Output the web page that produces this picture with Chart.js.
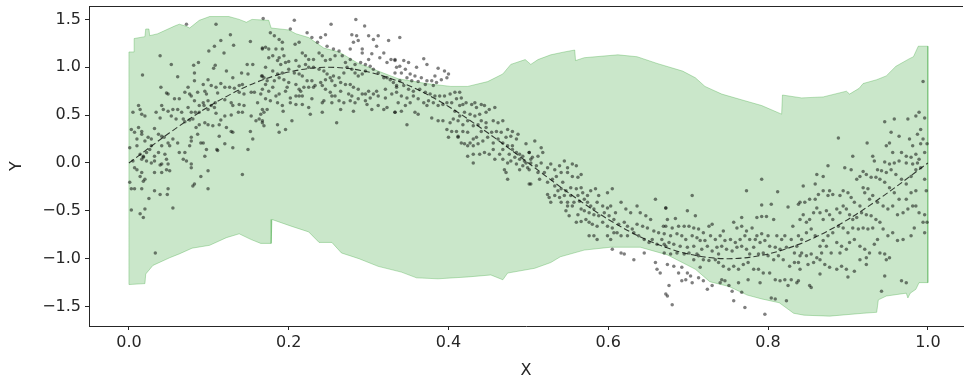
<!DOCTYPE html>
<html>
<head>
<meta charset="utf-8">
<script src="https://cdn.jsdelivr.net/npm/chart.js@4.4.1/dist/chart.umd.min.js"></script>
<style>
    html, body { margin: 0; padding: 0; background: #fff; overflow: hidden; }
    #wrap { width: 967px; height: 383px; position: relative; }
</style>
</head>
<body>
<div id="wrap"><canvas id="chart"></canvas></div>
<script>
// tick labels
const xTicks = [0.0, 0.2, 0.4, 0.6, 0.8, 1.0];
const yTicks = [-1.5, -1.0, -0.5, 0.0, 0.5, 1.0, 1.5];

// dashed reference curve
const curveX = [0, .05, .1, .15, .2, .25, .3, .35, .4, .45, .5, .55, .6, .65, .7, .75, .8, .85, .9, .95, 1];
const curveY = [0, .31, .59, .81, .95, 1, .95, .81, .59, .31, 0, -.31, -.59, -.81, -.95, -1, -.95, -.81, -.59, -.31, 0];

// upper / lower edge of the green band
const upperX = [0, .0065, .0065, .020, .021, .025, .026, .036, .057, .063, .071, .076, .088, .101, .125, .138, .147, .154, .175, .178, .200, .209, .225, .244, .263, .287, .312, .337, .372, .403, .424, .449, .468, .478, .496, .503, .512, .528, .545, .558, .559, .570, .612, .636, .661, .693, .709, .721, .742, .771, .792, .817, .818, .842, .869, .898, .902, .914, .919, .936, .948, .960, .977, .982, .988, 1.0];
const upperY = [1.16, 1.16, 1.30, 1.32, 1.40, 1.40, 1.33, 1.35, 1.43, 1.45, 1.43, 1.41, 1.49, 1.53, 1.53, 1.50, 1.47, 1.50, 1.49, 1.41, 1.39, 1.35, 1.31, 1.20, 1.16, 1.04, 0.96, 0.88, 0.83, 0.80, 0.80, 0.85, 0.93, 1.03, 1.08, 1.03, 1.08, 1.13, 1.16, 1.18, 1.07, 1.10, 1.13, 1.11, 1.04, 0.96, 0.89, 0.80, 0.72, 0.65, 0.60, 0.51, 0.71, 0.68, 0.69, 0.75, 0.72, 0.78, 0.83, 0.87, 0.91, 1.01, 1.09, 1.11, 1.22, 1.22];
const lowerX = [0, .020, .021, .030, .051, .063, .079, .101, .122, .138, .153, .165, .178, .179, .203, .225, .238, .254, .266, .288, .312, .341, .360, .387, .425, .453, .468, .474, .508, .528, .540, .570, .603, .640, .674, .709, .727, .751, .774, .792, .814, .832, .845, .877, .919, .936, .938, .948, .973, .975, .978, .985, .989, 1.0];
const lowerY = [-1.27, -1.26, -1.16, -1.07, -0.99, -0.95, -0.89, -0.86, -0.78, -0.74, -0.80, -0.84, -0.84, -0.59, -0.66, -0.72, -0.83, -0.83, -0.94, -1.00, -1.08, -1.14, -1.20, -1.21, -1.19, -1.17, -1.22, -1.15, -1.10, -1.04, -0.98, -0.91, -0.88, -0.88, -0.96, -1.11, -1.24, -1.29, -1.38, -1.42, -1.46, -1.57, -1.59, -1.60, -1.57, -1.56, -1.43, -1.39, -1.36, -1.41, -1.36, -1.32, -1.25, -1.25];

// scattered observations, split by x range
const obs1 = [[.072,1.45],[.109,1.45],[.127,1.34],[.115,1.28],[.107,1.22],[.100,1.17],[.119,1.15],[.131,1.23],[.152,1.27],[.039,1.12],[.053,1.03],[.081,1.02],[.087,1.05],[.108,1.02],[.106,.99],[.017,.92],[.061,.90],[.082,.94],[.099,.87],[.093,.82],[.115,.83],[.122,.96],[.130,.89],[.141,.94],[.148,1.03],[.149,.93],[.155,1.03],[.167,.91],[.167,1.20],[.040,.79],[.047,.73],[.049,.72],[.074,.79],[.076,.72],[.082,.86],[.086,.74],[.095,.75],[.097,.72],[.103,.81],[.109,.79],[.111,.73],[.120,.79],[.126,.79],[.132,.78],[.138,.81],[.142,.82],[.138,.74],[.144,.72],[.153,.74],[.157,.74],[.161,.63],[.144,.60],[.138,.61],[.128,.63],[.120,.66],[.108,.63],[.103,.60],[.099,.65],[.093,.63],[.088,.60],[.082,.65],[.078,.70],[.070,.74],[.063,.67],[.057,.67],[.055,.56],[.061,.56],[.066,.53],[.074,.58],[.078,.53],[.083,.53],[.088,.53],[.094,.60],[.099,.56],[.107,.58],[.109,.52],[.120,.49],[.128,.50],[.130,.60],[.137,.53],[.142,.53],[.153,.49],[.159,.44],[.163,.46],[.167,.42],[.012,.60],[.014,.56],[.005,.53],[.016,.51],[.020,.49],[.034,.53],[.039,.47],[.041,.60],[.043,.56],[.049,.54],[.053,.49],[.059,.46],[.068,.46],[.070,.43],[.076,.45],[.080,.46],[.084,.37],[.088,.40],[.095,.42],[.099,.40],[.105,.39],[.113,.40],[.115,.45],[.122,.37],[.128,.33],[.130,.32],[.152,.33],[.155,.25],[.149,.14],[.130,.16],[.120,.20],[.113,.28],[.110,.14],[.111,.13],[.097,.14],[.095,.07],[.093,.21],[.090,.21],[.086,.30],[.078,.27],[.078,.23],[.076,.18],[.070,.11],[.068,.04],[.063,.11],[.061,.21],[.055,.25],[.051,.18],[.049,.21],[.044,.27],[.041,.28],[.037,.30],[.032,.36],[.028,.25],[.024,.27],[.020,.23],[.016,.33],[.016,.30],[.012,.37],[.007,.32],[.003,.35],[.001,.16],[.010,.25],[.010,.18],[.016,.04],[.018,.06],[.014,.09],[.022,.11],[.026,.14],[.028,.18],[.032,.07],[.037,.11],[.041,.18],[.045,.09],[.047,.04],[.049,-.01],[.041,-.01],[.039,-.02],[.032,.02],[.028,0],[.022,.02],[.018,.07],[.005,.02],[.007,-.05],[.010,-.07],[.014,-.14],[.016,-.10],[.018,-.19],[.020,-.17],[.032,-.10],[.041,-.10],[.047,-.07],[.051,-.08],[.078,-.05],[.072,.02],[.078,-.01],[.090,-.14],[.099,-.08],[.082,-.22],[.080,-.24],[.099,-.27],[.001,-.20],[.003,-.27],[.016,-.27],[.007,-.27],[.025,-.37],[.032,-.29],[.039,-.33],[.049,-.27],[.048,-.33],[.055,-.47],[.003,-.49],[.014,-.53],[.018,-.57],[.020,-.48],[.033,-.94],[.142,-.12]];
const obs2 = [[.207,1.49],[.253,1.45],[.284,1.50],[.295,1.43],[.168,1.51],[.202,1.40],[.223,1.36],[.229,1.31],[.240,1.31],[.246,1.34],[.236,1.26],[.256,1.19],[.263,1.17],[.248,1.22],[.279,1.34],[.285,1.33],[.287,1.28],[.281,1.26],[.277,1.19],[.292,1.19],[.300,1.33],[.306,1.29],[.312,1.33],[.310,1.22],[.319,1.15],[.325,1.28],[.328,1.08],[.333,1.07],[.323,1.05],[.314,1.10],[.304,1.14],[.300,1.08],[.292,1.15],[.296,1.03],[.290,1.05],[.283,1.03],[.277,1.08],[.271,1.05],[.267,1.12],[.258,1.12],[.252,1.08],[.246,1.07],[.242,1.12],[.238,1.15],[.231,1.08],[.225,1.08],[.221,1.12],[.217,1.15],[.213,1.26],[.208,1.24],[.192,1.26],[.188,1.29],[.177,1.36],[.182,1.33],[.171,1.21],[.167,1.19],[.175,1.19],[.184,1.19],[.192,1.19],[.194,1.12],[.188,1.10],[.180,1.12],[.175,1.10],[.186,1.07],[.190,1.03],[.196,1.05],[.200,1.06],[.209,1.07],[.213,1.01],[.221,1.03],[.225,1.00],[.231,1.00],[.238,.98],[.244,.96],[.248,.93],[.252,.89],[.256,.91],[.263,.89],[.269,.94],[.273,1.00],[.279,.98],[.283,.94],[.287,.91],[.292,.93],[.296,.96],[.302,1.01],[.306,.98],[.312,.94],[.319,.89],[.323,.89],[.327,.87],[.331,.84],[.335,.79],[.329,.72],[.321,.77],[.312,.70],[.306,.72],[.302,.68],[.296,.65],[.292,.72],[.287,.77],[.281,.79],[.277,.82],[.271,.82],[.265,.84],[.258,.81],[.254,.86],[.246,.87],[.240,.84],[.233,.81],[.229,.86],[.223,.86],[.217,.91],[.213,.93],[.207,.94],[.200,.98],[.192,.94],[.186,.93],[.180,.96],[.171,1.00],[.166,.91],[.169,.89],[.173,.86],[.182,.86],[.188,.89],[.194,.87],[.200,.84],[.209,.82],[.213,.77],[.219,.79],[.225,.79],[.231,.79],[.242,.81],[.246,.77],[.252,.74],[.258,.70],[.265,.75],[.275,.72],[.279,.70],[.287,.67],[.296,.72],[.300,.75],[.310,.75],[.321,.68],[.323,.58],[.319,.56],[.333,.53],[.312,.60],[.304,.56],[.298,.61],[.283,.63],[.277,.65],[.269,.63],[.263,.65],[.254,.70],[.244,.65],[.242,.63],[.229,.67],[.225,.58],[.227,.51],[.217,.70],[.215,.75],[.209,.70],[.202,.68],[.196,.75],[.188,.72],[.184,.70],[.180,.79],[.175,.75],[.171,.82],[.167,.77],[.165,.72],[.171,.67],[.177,.65],[.186,.63],[.192,.60],[.202,.63],[.209,.61],[.213,.70],[.198,.79],[.167,.56],[.173,.56],[.169,.53],[.165,.51],[.193,.54],[.204,.44],[.186,.40],[.188,.32],[.196,.35],[.167,.44],[.169,.39],[.242,.53],[.260,.42],[.265,.56],[.281,.54],[.254,.63],[.217,.61]];
const obs3 = [[.339,1.31],[.369,1.09],[.333,1.08],[.344,1.07],[.350,1.05],[.360,1.00],[.373,1.03],[.387,.99],[.395,.96],[.400,.93],[.398,.89],[.391,.87],[.383,.91],[.379,.86],[.373,.86],[.366,.89],[.358,.91],[.352,.93],[.346,.98],[.339,1.01],[.335,1.00],[.333,.94],[.341,.94],[.348,.89],[.354,.86],[.362,.85],[.371,.82],[.381,.81],[.385,.84],[.339,.86],[.335,.81],[.344,.81],[.350,.77],[.356,.75],[.364,.77],[.371,.74],[.377,.72],[.383,.70],[.389,.70],[.395,.70],[.402,.72],[.408,.74],[.414,.74],[.416,.68],[.410,.67],[.404,.63],[.398,.63],[.393,.61],[.387,.60],[.381,.63],[.375,.65],[.369,.63],[.362,.67],[.356,.70],[.348,.68],[.341,.70],[.335,.74],[.337,.63],[.346,.60],[.352,.63],[.358,.53],[.362,.51],[.348,.40],[.333,.53],[.341,.54],[.373,.60],[.379,.47],[.387,.44],[.393,.44],[.398,.35],[.402,.42],[.406,.46],[.408,.54],[.414,.60],[.418,.61],[.422,.63],[.429,.61],[.433,.63],[.435,.58],[.441,.61],[.445,.60],[.451,.56],[.458,.58],[.447,.53],[.439,.51],[.433,.49],[.427,.51],[.420,.53],[.414,.49],[.412,.44],[.418,.40],[.424,.44],[.431,.39],[.437,.40],[.441,.44],[.447,.42],[.456,.44],[.462,.42],[.468,.44],[.474,.35],[.480,.33],[.487,.30],[.485,.25],[.478,.28],[.472,.27],[.466,.32],[.460,.33],[.454,.32],[.447,.37],[.441,.33],[.435,.27],[.431,.25],[.424,.32],[.418,.33],[.410,.33],[.412,.28],[.416,.21],[.420,.20],[.424,.18],[.431,.18],[.437,.20],[.443,.23],[.449,.27],[.456,.21],[.462,.25],[.468,.21],[.474,.18],[.480,.14],[.485,.11],[.489,.09],[.493,.07],[.497,.20],[.501,.11],[.503,.04],[.497,0],[.493,-.03],[.489,-.07],[.485,-.01],[.478,.02],[.474,0],[.470,-.07],[.472,-.10],[.474,-.17],[.468,.04],[.464,.09],[.458,.04],[.451,.09],[.445,.11],[.439,.09],[.431,.09],[.424,.07],[.431,0],[.489,.04],[.495,.02],[.499,-.05],[.501,-.22],[.483,.06],[.476,.09],[.480,.18],[.456,.14],[.412,.27],[.427,.21],[.400,.27],[.404,.33],[.468,.14]];
const obs4 = [[.508,.23],[.516,.16],[.518,.11],[.501,.11],[.505,.06],[.512,.07],[.503,0],[.510,-.03],[.516,0],[.501,-.07],[.512,-.10],[.520,-.10],[.503,-.22],[.514,-.17],[.524,-.05],[.528,-.01],[.533,-.07],[.539,-.03],[.545,.02],[.549,-.05],[.555,-.01],[.560,-.03],[.566,-.12],[.562,-.15],[.555,-.14],[.549,-.10],[.541,-.10],[.535,-.14],[.530,-.17],[.524,-.20],[.533,-.24],[.537,-.29],[.541,-.27],[.547,-.29],[.553,-.26],[.560,-.27],[.566,-.26],[.568,-.31],[.562,-.34],[.553,-.34],[.545,-.34],[.539,-.36],[.533,-.34],[.526,-.36],[.524,-.33],[.528,-.41],[.541,-.41],[.549,-.41],[.557,-.41],[.564,-.40],[.570,-.38],[.574,-.34],[.578,-.29],[.584,-.27],[.605,-.27],[.599,-.31],[.574,-.41],[.578,-.45],[.582,-.48],[.586,-.41],[.593,-.45],[.599,-.47],[.603,-.45],[.609,-.52],[.616,-.41],[.622,-.48],[.628,-.52],[.636,-.45],[.640,-.52],[.647,-.55],[.653,-.59],[.659,-.38],[.672,-.47],[.674,-.59],[.669,-.66],[.663,-.73],[.657,-.71],[.649,-.68],[.643,-.66],[.636,-.64],[.630,-.69],[.624,-.66],[.620,-.62],[.613,-.64],[.607,-.59],[.601,-.55],[.595,-.52],[.588,-.55],[.582,-.54],[.576,-.52],[.570,-.50],[.566,-.48],[.562,-.54],[.549,-.45],[.547,-.50],[.551,-.55],[.560,-.62],[.566,-.61],[.572,-.59],[.576,-.62],[.580,-.64],[.586,-.66],[.593,-.62],[.599,-.66],[.605,-.68],[.611,-.73],[.616,-.76],[.624,-.76],[.632,-.73],[.638,-.76],[.645,-.80],[.651,-.83],[.655,-.80],[.661,-.85],[.667,-.80],[.672,-.87],[.576,-.76],[.582,-.76],[.586,-.80],[.599,-.76],[.603,-.80],[.607,-.73],[.605,-.90],[.616,-.94],[.620,-.95],[.632,-1.01],[.645,-.94],[.659,-1.04],[.661,-1.11],[.665,-1.15],[.672,-1.37],[.555,-.45],[.543,-.20],[.588,-.34]];
const obs5 = [[.792,-.17],[.773,-.29],[.812,-.30],[.705,-.34],[.672,-.47],[.792,-.44],[.804,-.43],[.825,-.46],[.838,-.43],[.699,-.50],[.684,-.58],[.709,-.55],[.730,-.64],[.726,-.66],[.767,-.57],[.786,-.57],[.792,-.56],[.798,-.56],[.807,-.59],[.672,-.66],[.680,-.68],[.688,-.66],[.695,-.66],[.701,-.66],[.707,-.68],[.713,-.69],[.719,-.73],[.744,-.71],[.757,-.62],[.761,-.68],[.767,-.66],[.773,-.71],[.780,-.68],[.786,-.76],[.792,-.74],[.800,-.76],[.811,-.76],[.817,-.80],[.821,-.76],[.829,-.80],[.836,-.87],[.831,-.66],[.670,-.74],[.678,-.76],[.686,-.74],[.692,-.76],[.697,-.80],[.705,-.76],[.711,-.78],[.715,-.81],[.721,-.81],[.728,-.76],[.734,-.80],[.740,-.76],[.746,-.81],[.753,-.80],[.759,-.83],[.765,-.80],[.771,-.76],[.777,-.80],[.784,-.80],[.790,-.83],[.796,-.81],[.802,-.87],[.809,-.88],[.815,-.90],[.823,-.88],[.833,-.94],[.840,-.97],[.670,-.85],[.676,-.83],[.682,-.85],[.690,-.87],[.699,-.88],[.707,-.87],[.711,-.95],[.717,-.90],[.724,-.87],[.730,-.92],[.736,-.88],[.742,-.87],[.748,-.90],[.755,-.92],[.761,-.88],[.767,-.87],[.773,-.90],[.782,-.88],[.788,-.95],[.794,-.94],[.800,-.97],[.807,-1.01],[.813,-.97],[.819,-1.01],[.827,-1.08],[.833,-1.04],[.840,-1.11],[.670,-.94],[.678,-.95],[.686,-.94],[.695,-.95],[.701,-.94],[.707,-1.01],[.713,-.97],[.719,-1.01],[.726,-1.02],[.734,-1.01],[.738,-1.04],[.744,-1.08],[.751,-1.11],[.757,-1.08],[.763,-1.11],[.769,-1.06],[.775,-1.04],[.782,-1.11],[.788,-1.11],[.794,-1.15],[.802,-1.15],[.809,-1.22],[.815,-1.23],[.821,-1.22],[.825,-1.28],[.829,-1.22],[.836,-1.25],[.674,-1.06],[.682,-1.08],[.688,-1.15],[.692,-1.09],[.699,-1.15],[.703,-1.18],[.697,-1.22],[.692,-1.23],[.705,-1.25],[.713,-1.20],[.719,-1.23],[.724,-1.32],[.730,-1.28],[.740,-1.25],[.746,-1.23],[.755,-1.34],[.757,-1.44],[.767,-1.35],[.771,-1.51],[.742,-1.22],[.676,-1.28],[.674,-1.39],[.680,-1.48],[.775,-1.22],[.790,-1.25],[.804,-1.41],[.809,-1.42],[.796,-1.58],[.823,-1.44],[.777,-.95],[.738,-.95],[.715,-1.09],[.763,-1.25],[.751,-1.28]];
const obs6 = [[.994,.85],[.946,.43],[.958,.46],[.975,.46],[.985,.49],[.989,.53],[.996,.47],[.991,.35],[.987,.30],[.994,.25],[.991,.20],[.999,.20],[.888,.26],[.924,.21],[.954,.32],[.964,.28],[.977,.25],[.981,.18],[.948,.18],[.952,.21],[.956,.11],[.967,.11],[.973,.07],[.979,.06],[.985,.09],[.989,.04],[.996,.11],[.987,0],[.981,-.01],[.973,0],[.964,.02],[.958,0],[.952,-.01],[.946,.01],[.931,.07],[.933,.02],[.937,-.07],[.942,-.08],[.948,-.10],[.954,-.07],[.960,-.12],[.967,-.17],[.973,-.22],[.979,-.14],[.985,-.07],[.991,-.05],[.996,-.17],[.998,-.29],[.985,-.29],[.979,-.31],[.973,-.38],[.964,-.38],[.958,-.31],[.952,-.26],[.946,-.20],[.940,-.17],[.935,-.15],[.929,-.15],[.923,-.12],[.919,-.09],[.915,-.14],[.911,-.17],[.904,-.07],[.896,-.05],[.906,.07],[.875,-.03],[.869,-.14],[.861,-.12],[.859,-.22],[.844,-.24],[.840,-.41],[.846,-.41],[.852,-.38],[.859,-.38],[.863,-.33],[.869,-.29],[.875,-.34],[.877,-.29],[.881,-.33],[.890,-.34],[.894,-.29],[.900,-.31],[.904,-.36],[.908,-.41],[.915,-.45],[.919,-.26],[.925,-.27],[.921,-.31],[.927,-.38],[.931,-.34],[.937,-.41],[.944,-.45],[.950,-.48],[.956,-.45],[.962,-.54],[.969,-.52],[.975,-.48],[.981,-.45],[.989,-.52],[.996,-.54],[.999,-.62],[.983,-.68],[.979,-.76],[.969,-.80],[.962,-.81],[.956,-.73],[.950,-.76],[.944,-.69],[.940,-.62],[.935,-.59],[.929,-.55],[.923,-.54],[.917,-.52],[.911,-.57],[.906,-.59],[.902,-.54],[.898,-.48],[.894,-.45],[.890,-.52],[.886,-.48],[.881,-.59],[.877,-.54],[.873,-.50],[.869,-.59],[.865,-.52],[.861,-.47],[.857,-.52],[.852,-.59],[.848,-.62],[.844,-.54],[.840,-.59],[.838,-.76],[.842,-.80],[.848,-.73],[.854,-.69],[.859,-.76],[.865,-.87],[.869,-.81],[.875,-.76],[.881,-.73],[.888,-.66],[.894,-.68],[.900,-.73],[.906,-.68],[.913,-.69],[.919,-.68],[.925,-.69],[.931,-.68],[.937,-.80],[.933,-.85],[.927,-.94],[.921,-.90],[.923,-.99],[.915,-.87],[.908,-.80],[.902,-.83],[.898,-.90],[.892,-.87],[.886,-.83],[.879,-.94],[.873,-.87],[.867,-.94],[.861,-.99],[.854,-.95],[.848,-.97],[.842,-.94],[.838,-1.04],[.850,-1.06],[.857,-1.04],[.865,-1.01],[.871,-1.06],[.877,-1.09],[.886,-1.11],[.892,-1.08],[.898,-1.11],[.908,-1.13],[.923,-1.06],[.946,-.95],[.948,-1.01],[.952,-.99],[.946,-1.18],[.838,-1.23],[.852,-1.28],[.854,-1.30],[.865,-1.16],[.900,-1.19],[.942,-1.34],[.967,-1.23],[.973,-1.25],[.996,-.73],[.994,-.62],[.985,-.45],[.890,-.94],[.940,-.94],[.915,-1.01]];

document.addEventListener('DOMContentLoaded', () => {
    const fontFamily = "'DejaVu Sans', sans-serif";
    const ink = '#262626';

    // band polygon: upper edge left->right, lower edge right->left, closed
    const band = upperX.map((x, i) => ({ x: x, y: upperY[i] }));
    for (let i = lowerX.length - 1; i >= 0; i--) {
        band.push({ x: lowerX[i], y: lowerY[i] });
    }
    band.push({ x: upperX[0], y: upperY[0] });

    const obs = [...obs1, ...obs2, ...obs3, ...obs4, ...obs5, ...obs6].map(p => ({ x: p[0], y: p[1] }));
    const curve = curveX.map((x, i) => ({ x: x, y: curveY[i] }));

    const fmt = v => v.toFixed(1).replace('-', '\u2212');

    // top spine
    const frame = {
        id: 'frame',
        afterDatasetsDraw(chart) {
            const { ctx, chartArea } = chart;
            ctx.save();
            ctx.strokeStyle = ink;
            ctx.lineWidth = 1;
            ctx.beginPath();
            ctx.moveTo(chartArea.left, chartArea.top + 0.5);
            ctx.lineTo(chartArea.right, chartArea.top + 0.5);
            ctx.stroke();
            ctx.restore();
        }
    };

    new Chart(document.getElementById('chart').getContext('2d'), {
        type: 'scatter',
        data: {
            datasets: [
                {
                    label: 'curve',
                    data: curve,
                    showLine: true,
                    borderColor: 'rgba(0,0,0,0.75)',
                    borderWidth: 1.1,
                    borderDash: [6, 3],
                    pointRadius: 0,
                    cubicInterpolationMode: 'monotone',
                    order: 0
                },
                {
                    label: 'observations',
                    data: obs,
                    pointRadius: 1.75,
                    pointBorderWidth: 0,
                    backgroundColor: 'rgba(0,0,0,0.5)',
                    borderColor: 'rgba(0,0,0,0)',
                    order: 1
                },
                {
                    label: 'band',
                    data: band,
                    showLine: true,
                    fill: 'shape',
                    backgroundColor: 'rgba(44,160,44,0.25)',
                    borderColor: 'rgba(44,160,44,0.3)',
                    borderWidth: 1,
                    pointRadius: 0,
                    order: 2
                }
            ]
        },
        options: {
            responsive: true,
            maintainAspectRatio: false,
            animation: false,
            events: [],
            layout: { padding: { top: 6, left: 0, right: 0, bottom: 0 } },
            plugins: {
                legend: { display: false },
                tooltip: { enabled: false }
            },
            scales: {
                x: {
                    type: 'linear',
                    min: -0.05,
                    max: 1.044,
                    afterBuildTicks: s => { s.ticks = xTicks.map(v => ({ value: v })); },
                    afterFit: s => { s.height = 57; s.paddingLeft = 0; s.paddingRight = 0; },
                    grid: { drawOnChartArea: false, drawTicks: true, tickLength: 4, tickColor: ink },
                    border: { display: true, color: ink, width: 1 },
                    ticks: {
                        callback: v => fmt(v),
                        color: ink,
                        padding: 3,
                        maxRotation: 0,
                        font: { family: fontFamily, size: 16 }
                    },
                    title: {
                        display: true,
                        text: 'X',
                        color: ink,
                        padding: { top: 0, bottom: 3 },
                        font: { family: fontFamily, size: 16 }
                    }
                },
                y: {
                    type: 'linear',
                    min: -1.703,
                    max: 1.64,
                    afterBuildTicks: s => { s.ticks = yTicks.map(v => ({ value: v })); },
                    afterFit: s => { s.width = 89; s.paddingTop = 0; s.paddingBottom = 0; },
                    grid: { drawOnChartArea: false, drawTicks: true, tickLength: 4, tickColor: ink },
                    border: { display: true, color: ink, width: 1 },
                    ticks: {
                        callback: v => fmt(v),
                        color: ink,
                        padding: 4,
                        font: { family: fontFamily, size: 16 }
                    },
                    title: {
                        display: true,
                        text: 'Y',
                        color: ink,
                        padding: { top: 7, bottom: 0 },
                        font: { family: fontFamily, size: 16 }
                    }
                }
            }
        },
        plugins: [frame]
    });
});
</script>
</body>
</html>
